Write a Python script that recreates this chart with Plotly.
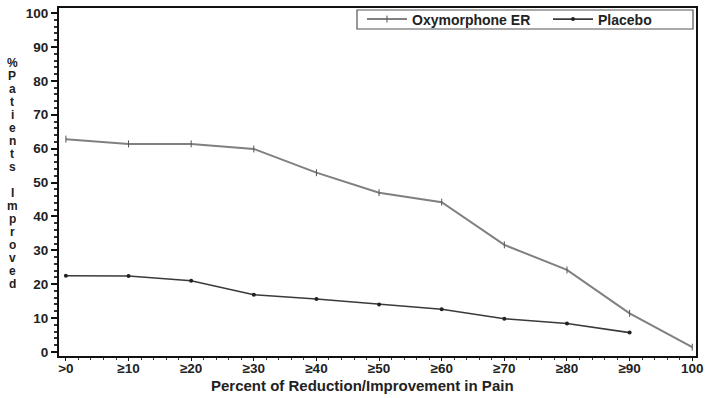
import plotly.graph_objects as go

categories = [">0", "≥10", "≥20", "≥30", "≥40", "≥50", "≥60", "≥70", "≥80", "≥90", "100"]
oxymorphone_er = [62.8, 61.4, 61.4, 59.9, 52.9, 47.0, 44.2, 31.6, 24.2, 11.4, 1.4]
placebo = [22.5, 22.4, 21.0, 16.9, 15.6, 14.0, 12.6, 9.8, 8.4, 5.7]
y_ticks = [0, 10, 20, 30, 40, 50, 60, 70, 80, 90, 100]
y_title_words = ["%Patients", "Improved"]
x_title = "Percent of Reduction/Improvement in Pain"

x_pos = list(range(len(categories)))

FONT = "Liberation Sans, Arial, sans-serif"
W, H = 711, 398
L, R, T, B = 59, 15, 8, 42
PW, PH = W - L - R, H - T - B


def px(x):
    return (x - L) / PW


def py(y):
    return (H - B - y) / PH


fig = go.Figure()
fig.add_trace(go.Scatter(
    x=x_pos[:len(oxymorphone_er)], y=oxymorphone_er, name="Oxymorphone ER",
    mode="lines+markers", legend="legend",
    line=dict(color="#808080", width=2),
    marker=dict(symbol="line-ns", size=5, color="#555555",
                line=dict(color="#555555", width=1)),
))
fig.add_trace(go.Scatter(
    x=x_pos[:len(placebo)], y=placebo, name="Placebo",
    mode="lines+markers", legend="legend2",
    line=dict(color="#3a3a3a", width=1.6),
    marker=dict(symbol="circle", size=4, color="#222222"),
))

# stacked vertical letters for the y-axis title
letters = list(y_title_words[0]) + [""] + list(y_title_words[1])
n = len(letters)
step = 13.0
for i, ch in enumerate(letters):
    if not ch:
        continue
    fig.add_annotation(
        text=ch, xref="paper", yref="paper",
        x=px(12), y=py(174), xanchor="center", yanchor="middle",
        yshift=((n - 1) / 2 - i) * step, height=step - 0.5,
        showarrow=False,
        font=dict(family=FONT, size=12, color="#222222", weight="bold"),
    )

fig.add_annotation(
    text=x_title, xref="paper", yref="paper",
    x=px(362), y=py(385), xanchor="center", yanchor="middle",
    showarrow=False,
    font=dict(family=FONT, size=15, color="#222222", weight="bold"),
)

# legend frame
fig.add_shape(type="rect", xref="paper", yref="paper",
              x0=px(357), x1=px(693), y0=py(29), y1=py(10),
              line=dict(color="#555555", width=1.2), fillcolor="rgba(0,0,0,0)",
              layer="above")

leg_common = dict(
    orientation="h", yanchor="middle", y=py(19.5),
    borderwidth=0, bgcolor="rgba(0,0,0,0)",
    font=dict(family=FONT, size=14, color="#222222", weight="bold"),
    itemwidth=40,
)

fig.update_layout(
    width=W, height=H,
    margin=dict(l=L, r=R, t=T, b=B, autoexpand=False),
    paper_bgcolor="white", plot_bgcolor="white",
    font=dict(family=FONT, size=13, color="#222222"),
    showlegend=True,
    legend=dict(x=px(362), xanchor="left", **leg_common),
    legend2=dict(x=px(548), xanchor="left", **leg_common),
    xaxis=dict(
        range=[-0.11, 10.06], automargin=False,
        tickmode="array", tickvals=x_pos, ticktext=categories,
        showgrid=False, zeroline=False,
        showline=True, linecolor="#111111", linewidth=2, mirror=True,
        ticks="outside", ticklen=3, tickwidth=1, tickcolor="#111111",
        ticklabelstandoff=-4,
        tickfont=dict(family=FONT, size=13.5, color="#222222", weight="bold"),
        minor=dict(dtick=0.2, tick0=0, ticks="outside", ticklen=2, tickcolor="#333333"),
    ),
    yaxis=dict(
        range=[-1.2, 101.5], automargin=False,
        tickmode="array", tickvals=y_ticks,
        showgrid=False, zeroline=False,
        showline=True, linecolor="#111111", linewidth=2, mirror=True,
        ticks="outside", ticklen=6, tickwidth=1.5, tickcolor="#111111",
        tickfont=dict(family=FONT, size=13.5, color="#222222", weight="bold"),
        minor=dict(dtick=2, tick0=0, ticks="outside", ticklen=3, tickcolor="#333333"),
    ),
)

fig.write_html("out.html", config={"displayModeBar": False},
               post_script="document.body.style.margin='0';")
